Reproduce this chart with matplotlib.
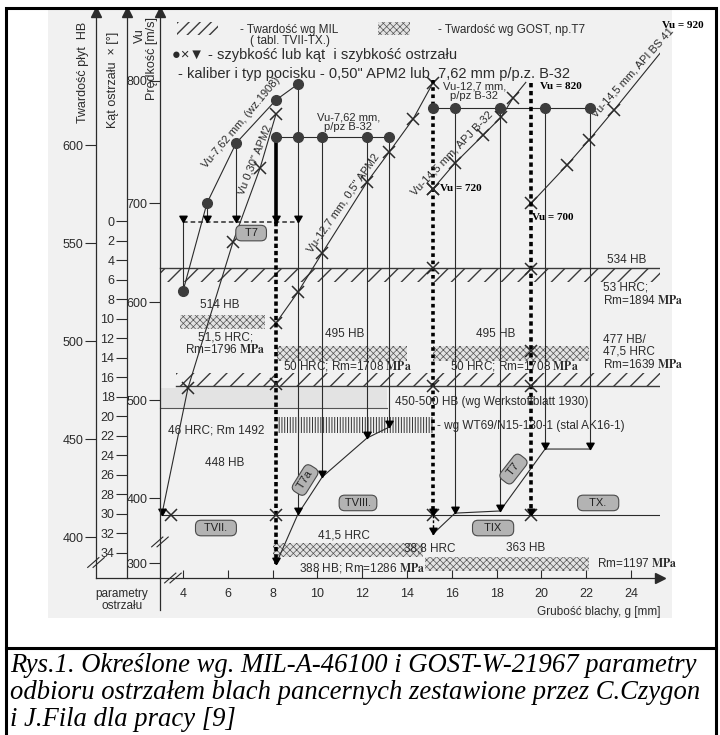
import numpy as np
import matplotlib
matplotlib.use("Agg")
import matplotlib.pyplot as plt
from matplotlib.patches import Rectangle

plt.rcParams['font.family'] = ['Liberation Sans', 'DejaVu Sans']
plt.rcParams['mathtext.fontset'] = 'stix'

INK = '#2b2b2b'

# ---- scales ----
hb_ticks = [400, 450, 500, 550, 600]
angle_ticks = list(range(0, 36, 2))
vel_ticks = [300, 400, 500, 600, 700, 800]
vel_on_hb = [386.7, 419.9, 469.9, 519.9, 570.4, 632.7]   # velocity scale is not linear in the drawing
thick_ticks = list(range(4, 26, 2))
angle_zero_hb = 561.2   # 0 deg sits here on the HB scale
hb_per_deg = 4.98

# ---- series: thickness g [mm] and level read on the HB scale ----
# Vu-7,62 mm (wz.1908), dots
wz_g = [4.0, 5.07, 6.37, 8.15, 9.13]
wz_v = [525.5, 570.4, 601.0, 623.0, 631.1]
# Vu-7,62 mm p/pz B-32, dots on one level
b32_g = [8.15, 9.13, 10.21, 12.21, 13.2]
b32_v = 604.1
# Vu-12,7 mm p/pz B-32, dots on one level
b32b_g = [15.15, 16.14, 18.15, 20.16, 22.17]
b32b_v = 618.9
# Vu 0,30" APM2
apm30_g = [8.15, 7.44, 6.23, 4.22, 3.05]
apm30_v = [615.8, 588.3, 550.5, 476.0, 411.2]
# Vu-12,7 mm 0,5" APM2
apm50_g = [8.15, 9.13, 10.21, 12.21, 13.2, 14.27, 15.15]
apm50_v = [509.2, 525.0, 544.9, 581.1, 596.4, 613.3, 631.6]
# Vu-14,5 mm APJ B-32 (last point is where the line stops, no marker)
apj_g = [15.15, 16.14, 17.4, 18.2, 18.73, 19.3]
apj_v = [577.6, 590.8, 605.1, 614.3, 624.0, 632.0]
# Vu-14,5 mm API BS 41
bs41_g = [19.55, 21.14, 22.12, 23.24, 25.87]
bs41_v = [570.4, 589.8, 602.6, 617.9, 655.0]
# T7a curve and T7 curve (lower part)
t7a_g = [8.15, 9.13, 10.21, 12.21, 13.2]
t7a_v = [386.2, 411.7, 430.6, 450.5, 456.1]
t7_g = [15.15, 16.14, 18.15, 20.16, 22.17]
t7_v = [401.5, 412.2, 413.3, 444.9, 444.9]

# vertical drop lines (thickness, from, to)
drop_g = [4.0, 5.07, 6.37, 9.13, 10.21, 12.21, 13.2, 16.14, 18.15, 20.16, 22.17, 25.87]
drop_top = [561.0, 570.4, 601.0, 631.1, 604.1, 604.1, 604.1, 618.9, 618.9, 618.9, 618.9, 655.0]
drop_bot = [525.5, 561.0, 561.0, 411.7, 430.6, 450.5, 456.1, 412.2, 413.3, 444.9, 444.9, 411.2]

tri_g = [4.0, 5.07, 6.37, 8.15, 9.13, 9.13, 10.21, 12.21, 13.2, 8.15, 3.05,
         15.15, 15.15, 19.55, 16.14, 18.15, 20.16, 22.17, 25.87]
tri_v = [561.0, 561.0, 561.0, 561.0, 561.0, 411.7, 430.6, 450.5, 456.1, 386.2, 411.2,
         411.2, 401.5, 411.2, 412.2, 413.3, 444.9, 444.9, 411.2]

extra_x_g = [3.46, 8.15, 8.15, 15.15, 15.15, 15.15, 15.15, 19.55, 19.55, 19.55, 19.55]
extra_x_v = [411.2, 478.1, 411.2, 577.6, 537.5, 477.0, 411.2, 536.7, 494.9, 477.0, 411.2]

base_v = 411.2
base_g = [3.05, 25.87]
t7_row_v = 561.0
t7_row_g = [4.0, 9.13]

# hardness bands: (g from, g to, low, high)
mil_bands = [(2.97, 25.7, 530.1, 537.2, 537.2), (3.7, 25.65, 477.0, 483.7, 477.0)]
gost_bands = [(3.87, 7.67, 506.1, 513.3), (8.2, 14.0, 489.8, 497.5), (15.16, 22.12, 489.8, 497.5),
              (8.0, 14.7, 389.8, 397.0), (14.8, 22.1, 382.6, 389.8)]
wt69_band = (8.2, 15.16, 453.1, 461.2)
werk_band = (2.97, 13.1, 465.8, 476.0)

badges = [("  T7  ", 7.04, 555.1, 0), ("  TVII.  ", 5.47, 404.6, 0), (" TVIII. ", 11.81, 417.4, 0),
          ("   TIX   ", 17.84, 404.6, 0), ("   TX.   ", 22.53, 417.4, 0),
          (" T7a ", 9.45, 429.1, 58), ("  T7  ", 18.75, 434.7, 52)]

fig = plt.figure(figsize=(7.2, 7.35), dpi=100)

# scan background + frame
fig.add_artist(Rectangle((48 / 720, 1 - 618 / 735), 624 / 720, 608 / 735, transform=fig.transFigure,
                         facecolor='#f1f1f1', edgecolor='none', zorder=0))
fig.add_artist(Rectangle((6 / 720, -2 / 735), 710 / 720, 729 / 735, transform=fig.transFigure,
                         fill=False, edgecolor='black', lw=2.2, zorder=5))
fig.add_artist(plt.Line2D([6 / 720, 716 / 720], [1 - 648 / 735] * 2, transform=fig.transFigure,
                          color='black', lw=2.2, zorder=5))

ax = fig.add_axes([96 / 720, 1 - 578 / 735, 564 / 720, 566 / 735])
ax.patch.set_visible(False)
ax.set_xlim(0.116, 25.29)
ax.set_ylim(379.1, 667.9)
for s in ['top', 'right']:
    ax.spines[s].set_visible(False)
for s in ['left', 'bottom']:
    ax.spines[s].set_color(INK)
    ax.spines[s].set_linewidth(0.9)
ax.set_xticks(thick_ticks)
ax.set_yticks(hb_ticks)
ax.tick_params(axis='x', direction='in', length=6, labelsize=9, pad=7, colors=INK)
ax.tick_params(axis='y', direction='out', length=8, labelsize=9, pad=1, colors=INK)

# angle axis
ax2 = ax.twinx()
ax2.set_ylim((angle_zero_hb - 379.1) / hb_per_deg, (angle_zero_hb - 667.9) / hb_per_deg)
# velocity axis
ax3 = ax.twinx()
ax3.set_ylim(379.1, 667.9)
for a, xpos, ticks, labels in [(ax2, 1.5, angle_ticks, [str(t) for t in angle_ticks]),
                               (ax3, 2.97, vel_on_hb, [str(v) for v in vel_ticks])]:
    for s in ['top', 'right', 'bottom']:
        a.spines[s].set_visible(False)
    a.spines['left'].set_visible(True)
    a.spines['left'].set_position(('data', xpos))
    a.spines['left'].set_color(INK)
    a.spines['left'].set_linewidth(0.9)
    a.yaxis.tick_left()
    a.set_yticks(ticks)
    a.set_yticklabels(labels)
    a.tick_params(axis='y', direction='out', length=8, labelsize=9, pad=1, colors=INK)

# arrow heads and the velocity axis stub below the plate axis
ax.plot([0.116, 1.5, 2.97], [667.9] * 3, ls='none', marker='^', ms=7, color=INK, clip_on=False)
ax.plot(25.29, 379.1, marker='>', ms=7, color=INK, clip_on=False)
ax.plot([2.97, 2.97], [379.1, 362.8], color=INK, lw=0.9, clip_on=False)
for bx, by in [(0.116, 387.0), (2.97, 397.5), (3.55, 379.1)]:
    for d in (-0.12, 0.12):
        ax.plot([bx - 0.25 + d, bx + 0.25 + d], [by - 2.5, by + 2.5], color=INK, lw=0.8, clip_on=False)

# hardness bands
plt.rcParams['hatch.linewidth'] = 1.0
for g0, g1, lo, hi, edge in mil_bands:
    ax.add_patch(Rectangle((g0, lo), g1 - g0, hi - lo, hatch='//', fill=False, edgecolor='#3a3a3a', lw=0, zorder=1))
    ax.plot([g0, g1], [edge, edge], color='#3a3a3a', lw=1.0, zorder=1)
ax.add_patch(Rectangle((3.73, 656.1), 1.83, 6.7, hatch='///', fill=False, edgecolor='#3a3a3a', lw=0))
plt.rcParams['hatch.linewidth'] = 0.5
for g0, g1, lo, hi in gost_bands:
    ax.add_patch(Rectangle((g0, lo), g1 - g0, hi - lo, hatch='xxxxx', facecolor='#e2e2e2',
                           edgecolor='#555555', lw=0, zorder=1))
ax.add_patch(Rectangle((12.71, 656.1), 1.43, 6.7, hatch='xxxxx', facecolor='#e2e2e2', edgecolor='#555555', lw=0))
plt.rcParams['hatch.linewidth'] = 0.7
g0, g1, lo, hi = wt69_band
ax.add_patch(Rectangle((g0, lo), g1 - g0, hi - lo, hatch='||||||', fill=False, edgecolor='#333333', lw=0, zorder=1))
g0, g1, lo, hi = werk_band
ax.add_patch(Rectangle((g0, lo), g1 - g0, hi - lo, facecolor='#e3e3e3', edgecolor='none', zorder=1))
ax.plot([g0, g1], [lo, lo], color='#555555', lw=0.8, zorder=1)

LW = 0.8
tip = [(0, 0), (-0.58, 1), (0.58, 1), (0, 0)]
# thin lines
ax.plot(wz_g, wz_v, color=INK, lw=LW, marker='o', ms=7, mfc='#3c3c3c', mec='#3c3c3c', zorder=3)
ax.plot([b32_g[0], b32_g[-1]], [b32_v, b32_v], color=INK, lw=LW, zorder=3)
ax.plot(b32_g, [b32_v] * len(b32_g), ls='none', marker='o', ms=7, color='#3c3c3c', zorder=4)
ax.plot([b32b_g[0], b32b_g[-1]], [b32b_v, b32b_v], color=INK, lw=LW, zorder=3)
ax.plot(b32b_g, [b32b_v] * len(b32b_g), ls='none', marker='o', ms=7, color='#3c3c3c', zorder=4)
for g, top, bot in zip(drop_g, drop_top, drop_bot):
    ax.plot([g, g], [top, bot], color=INK, lw=LW, zorder=2)
ax.plot(apm30_g, apm30_v, color=INK, lw=LW, zorder=3)
ax.plot(apm30_g[:-1], apm30_v[:-1], ls='none', marker='x', ms=8, mew=1.1, color=INK, zorder=4)
ax.plot(apm50_g, apm50_v, color=INK, lw=LW, marker='x', ms=8, mew=1.1, zorder=3)
ax.plot(apj_g, apj_v, color=INK, lw=LW, zorder=3)
ax.plot(apj_g[:-1], apj_v[:-1], ls='none', marker='x', ms=8, mew=1.1, color=INK, zorder=4)
ax.plot(bs41_g, bs41_v, color=INK, lw=LW, marker='x', ms=8, mew=1.1, zorder=3)
ax.plot(t7a_g, t7a_v, color=INK, lw=LW, zorder=3)
ax.plot(t7_g, t7_v, color=INK, lw=LW, zorder=3)
ax.plot(base_g, [base_v, base_v], color=INK, lw=LW, zorder=2)
ax.plot(t7_row_g, [t7_row_v] * 2, color=INK, lw=1.1, ls=(0, (3, 2)), zorder=2)
ax.plot(extra_x_g, extra_x_v, ls='none', marker='x', ms=8, mew=1.1, color=INK, zorder=4)

# heavy lines
ax.plot([8.15, 8.15], [604.1, 561.0], color='black', lw=2.6, zorder=3)
ax.plot([8.15, 8.15], [561.0, 386.2], color='black', lw=2.6, ls=(0, (1.2, 0.8)), zorder=3)
ax.plot([15.15, 15.15], [633.0, 411.2], color='black', lw=2.6, ls=(0, (1.0, 1.0)), zorder=3)
ax.plot([15.15, 15.15], [411.2, 401.5], color='black', lw=1.0, ls=(0, (2, 1.5)), zorder=3)
ax.plot([19.55, 19.55], [631.6, 411.2], color='black', lw=2.6, ls=(0, (1.2, 1.0)), zorder=3)
ax.plot(tri_g, tri_v, ls='none', marker=tip, ms=9, color='black', zorder=5)

# badges
for txt, g, v, rot in badges:
    ax.text(g, v, txt, fontsize=8, ha='center', va='center', rotation=rot, color='#222222', zorder=6,
            bbox=dict(boxstyle='round,pad=0.25,rounding_size=0.5', facecolor='#b3b3b3', edgecolor='#4a4a4a', lw=0.8))

# axis titles
ax.text(-0.46, 637.3, "Twardość płyt  HB", rotation=90, ha='center', va='center', fontsize=9, color=INK)
ax.text(0.88, 633.2, "Kąt ostrzału  × [°]", rotation=90, ha='center', va='center', fontsize=9, color=INK)
ax.text(2.08, 656.1, "Vu", rotation=90, ha='center', va='center', fontsize=9, color=INK)
ax.text(2.62, 644.4, "Prędkość [m/s]", rotation=90, ha='center', va='center', fontsize=9, color=INK)
ax.text(1.28, 367.9, "parametry\nostrzału", ha='center', va='center', fontsize=8.5, color=INK, linespacing=1.1)
ax.text(19.8, 361.7, "Grubość blachy, g [mm]", ha='left', va='center', fontsize=8.5, color=INK)

# legend texts
ax.text(6.55, 658.7, "- Twardość wg MIL", fontsize=8.5, va='center', color=INK)
ax.text(7.0, 653.1, "( tabl. TVII-TX.)", fontsize=8.5, va='center', color=INK)
ax.text(15.38, 658.7, "- Twardość wg GOST, np.T7", fontsize=8.5, va='center', color=INK)
ax.text(3.51, 645.9, "●×▼ - szybkość lub kąt  i szybkość ostrzału", fontsize=10.5, va='center', color=INK)
ax.text(3.78, 636.2, "- kaliber i typ pocisku - 0,50\" APM2 lub  7,62 mm p/p.z. B-32", fontsize=10.5,
        va='center', color=INK)

# curve labels
curve_labels = [("Vu-7,62 mm, (wz.1908)", 6.6, 611.5, 50), ("Vu 0,30\" APM2", 7.21, 592.3, 68),
                ("Vu-12,7 mm, 0,5\" APM2", 11.15, 570.5, 55), ("Vu-14,5 mm, APJ B-32", 16.0, 595.9, 46),
                ("Vu-14,5 mm, API BS 41", 24.05, 637.2, 48), ("Vu-7,62 mm,\np/pz B-32", 11.37, 611.7, 0),
                ("Vu-12,7 mm,\np/pz B-32", 17.0, 627.5, 0)]
for txt, g, v, rot in curve_labels:
    ax.text(g, v, txt, rotation=rot, rotation_mode='anchor' if rot else 'default', ha='center', va='center',
            fontsize=8, color=INK, linespacing=0.95)
for txt, g, v in [("Vu = 720", 15.47, 577.6), ("Vu = 700", 19.58, 562.8), ("Vu = 820", 19.94, 630.1),
                  ("Vu = 920", 25.4, 661.2)]:
    ax.text(g, v, txt, family='Liberation Serif', weight='bold', fontsize=8, ha='left', va='center', color='black')

# hardness labels
hb_labels = [("534 HB", 22.93, 541.3, 'left'), ("53 HRC;\nRm=1894 $\\mathbf{MPa}$", 22.75, 524.0, 'left'),
             ("514 HB", 5.65, 518.4, 'center'), ("51,5 HRC;\nRm=1796 $\\mathbf{MPa}$", 5.88, 498.5, 'center'),
             ("495 HB", 11.23, 503.6, 'center'), ("50 HRC; Rm=1708 $\\mathbf{MPa}$", 11.32, 487.2, 'center'),
             ("495 HB", 17.97, 503.6, 'center'), ("50 HRC; Rm=1708 $\\mathbf{MPa}$", 18.78, 487.2, 'center'),
             ("477 HB/\n47,5 HRC\nRm=1639 $\\mathbf{MPa}$", 22.75, 494.4, 'left'),
             ("450-500 HB (wg Werkstoffblatt 1930)", 13.46, 468.9, 'left'),
             ("- wg WT69/N15-130-1 (stal AK16-1)", 15.34, 456.6, 'left'),
             ("46 HRC; Rm 1492", 5.48, 454.6, 'center'), ("448 HB", 5.88, 437.8, 'center'),
             ("41,5 HRC", 11.19, 401.0, 'center'), ("388 HB; Rm=1286 $\\mathbf{MPa}$", 11.99, 384.2, 'center'),
             ("38,8 HRC", 15.03, 394.4, 'center'), ("363 HB", 19.31, 394.6, 'center'),
             ("Rm=1197 $\\mathbf{MPa}$", 22.48, 386.7, 'left')]
for txt, g, v, ha in hb_labels:
    ax.text(g, v, txt, fontsize=8.5, ha=ha, va='center', color=INK, linespacing=1.0, zorder=6)

# caption
cap = ["Rys.1. Określone wg. MIL-A-46100 i GOST-W-21967 parametry",
       "odbioru ostrzałem blach pancernych zestawione przez C.Czygon",
       "i J.Fila dla pracy [9]"]
for i, line in enumerate(cap):
    fig.text(10 / 720, 1 - (666 + 26.5 * i) / 735, line, family='Liberation Serif', style='italic',
             fontsize=19.2, ha='left', va='center')

fig.savefig("out.png", dpi=100)
